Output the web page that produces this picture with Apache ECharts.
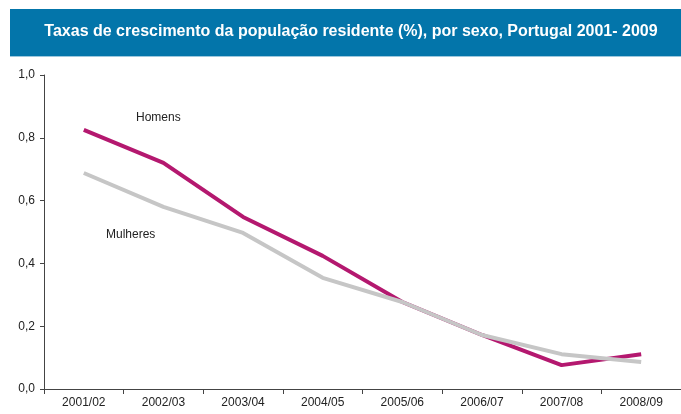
<!DOCTYPE html>
<html>
<head>
<meta charset="utf-8">
<script src="https://cdn.jsdelivr.net/npm/echarts@6/dist/echarts.min.js"></script>
<style>
  html, body { margin: 0; padding: 0; background: #fff; }
  #main { width: 681px; height: 414px; }
</style>
</head>
<body>
<div id="main"></div>
<script>
'use strict';

// periods on the x axis
var periods = ['2001/02', '2002/03', '2003/04', '2004/05', '2005/06', '2006/07', '2007/08', '2008/09'];
// growth rates (%)
var homens = [0.825, 0.72, 0.548, 0.424, 0.277, 0.172, 0.076, 0.111];
var mulheres = [0.688, 0.58, 0.497, 0.354, 0.277, 0.172, 0.111, 0.086];

var titleText = 'Taxas de crescimento da população residente (%), por sexo, Portugal 2001- 2009';

var myChart = echarts.init(document.getElementById('main'));

var option = {
  backgroundColor: '#fff',
  animation: false,
  textStyle: { fontFamily: 'Liberation Sans, Arial, sans-serif' },
  graphic: [
    // blue banner
    {
      type: 'rect',
      shape: { x: 10, y: 9, width: 680, height: 47 },
      style: { fill: '#0375AA' }
    },
    {
      type: 'rect',
      shape: { x: 10, y: 56, width: 680, height: 1 },
      style: { fill: '#9CC8DE' }
    },
    {
      type: 'text',
      x: 351,
      y: 32,
      style: {
        text: titleText,
        fill: '#fff',
        font: 'bold 16px "Liberation Sans", Arial, sans-serif',
        align: 'center',
        verticalAlign: 'middle'
      }
    },
    // series names written in the plot
    {
      type: 'text',
      x: 136,
      y: 118,
      style: {
        text: 'Homens',
        fill: '#222',
        font: '12px "Liberation Sans", Arial, sans-serif',
        verticalAlign: 'middle'
      }
    },
    {
      type: 'text',
      x: 106,
      y: 235,
      style: {
        text: 'Mulheres',
        fill: '#222',
        font: '12px "Liberation Sans", Arial, sans-serif',
        verticalAlign: 'middle'
      }
    }
  ],
  grid: {
    left: 44,
    top: 75,
    bottom: 25,
    width: 642,
    containLabel: false
  },
  xAxis: {
    type: 'category',
    data: periods,
    boundaryGap: true,
    axisLine: { lineStyle: { color: '#444', width: 1 } },
    axisTick: { show: true, length: 5, lineStyle: { color: '#444' } },
    axisLabel: { color: '#222', fontSize: 12, margin: 8 }
  },
  yAxis: {
    type: 'value',
    min: 0,
    max: 1,
    interval: 0.2,
    splitLine: { show: false },
    axisLine: { show: true, lineStyle: { color: '#444', width: 1 } },
    axisTick: { show: true, length: 4, lineStyle: { color: '#444' } },
    axisLabel: {
      color: '#222',
      fontSize: 12,
      margin: 9,
      formatter: function (v) { return v.toFixed(1).replace('.', ','); }
    }
  },
  series: [
    {
      name: 'Mulheres',
      type: 'line',
      data: mulheres,
      symbol: 'none',
      lineStyle: { color: '#C6C6C6', width: 4 },
      z: 2
    },
    {
      name: 'Homens',
      type: 'line',
      data: homens,
      symbol: 'none',
      lineStyle: { color: '#B4186F', width: 4 },
      z: 1
    }
  ]
};

myChart.setOption(option);
</script>
</body>
</html>
